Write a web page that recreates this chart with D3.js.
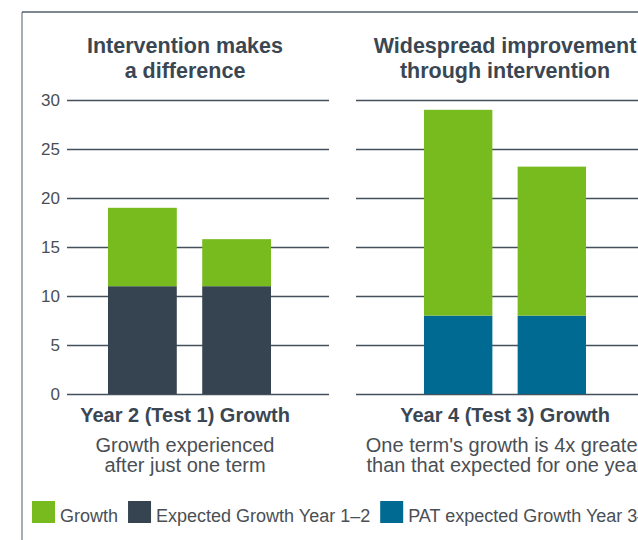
<!DOCTYPE html>
<html>
<head>
<meta charset="utf-8">
<script src="https://cdn.jsdelivr.net/npm/d3@7/dist/d3.min.js"></script>
<style>
  html, body { margin: 0; padding: 0; background: #fff; overflow: hidden; }
  svg { display: block; font-family: "Liberation Sans", Arial, Helvetica, sans-serif; }
</style>
</head>
<body>
<script>
// ---- data ----
const bars = ["Group A", "Group B"];
const yTicks = [0, 5, 10, 15, 20, 25, 30];

const leftTitle = ["Intervention makes", "a difference"];
const leftLabel = "Year 2 (Test 1) Growth";
const leftNote = ["Growth experienced", "after just one term"];
const leftExpected = [11, 11];
const leftGrowth = [8, 4.8];

const rightTitle = ["Widespread improvement", "through intervention"];
const rightLabel = "Year 4 (Test 3) Growth";
const rightNote = ["One term's growth is 4x greater", "than that expected for one year"];
const rightExpected = [8, 8];
const rightGrowth = [21, 15.2];

const legendNames = ["Growth", "Expected Growth Year 1–2", "PAT expected Growth Year 3–4"];
const legendColors = ["#77bb1f", "#364451", "#006a92"];

// ---- drawing ----
const width = 638, height = 540;
const svg = d3.select("body").append("svg")
  .attr("width", width)
  .attr("height", height);

// frame
svg.append("line")
  .attr("x1", 22).attr("x2", 22).attr("y1", 12).attr("y2", height)
  .attr("stroke", "#8a949e").attr("stroke-width", 1.5);
svg.append("line")
  .attr("x1", 22).attr("x2", width).attr("y1", 12).attr("y2", 12)
  .attr("stroke", "#55616d").attr("stroke-width", 1.5);

const y = d3.scaleLinear().domain([0, 30]).range([394, 100]);

function panel(opts) {
  const g = svg.append("g");

  // gridlines + tick labels
  const axis = d3.axisLeft(y)
    .tickValues(yTicks)
    .tickSize(-(opts.gridEnd - opts.gridStart))
    .tickPadding(7)
    .tickFormat(opts.labels ? d3.format("d") : "");
  const ax = g.append("g")
    .attr("transform", `translate(${opts.gridStart},0)`)
    .call(axis);
  ax.select(".domain").remove();
  ax.selectAll(".tick line").attr("stroke", "#44505c").attr("stroke-width", 1.5);
  ax.selectAll(".tick text")
    .attr("fill", "#4a4f55")
    .style("font-size", "17px")
    .attr("font-family", null);

  const x = d3.scaleBand()
    .domain(bars)
    .range(opts.barRange)
    .paddingInner(0.27)
    .paddingOuter(0);

  const stack = bars.map((b, i) => ({
    key: b, base: opts.expected[i], top: opts.expected[i] + opts.growth[i]
  }));

  g.selectAll(".base").data(stack).join("rect")
    .attr("class", "base")
    .attr("x", d => x(d.key))
    .attr("width", x.bandwidth())
    .attr("y", d => y(d.base))
    .attr("height", d => y(0) - y(d.base))
    .attr("fill", opts.baseColor);

  g.selectAll(".growth").data(stack).join("rect")
    .attr("class", "growth")
    .attr("x", d => x(d.key))
    .attr("width", x.bandwidth())
    .attr("y", d => y(d.top))
    .attr("height", d => y(d.base) - y(d.top))
    .attr("fill", legendColors[0]);

  // title
  g.selectAll(".title").data(opts.title).join("text")
    .attr("class", "title")
    .attr("x", opts.cx)
    .attr("y", (d, i) => 53 + i * 25)
    .attr("text-anchor", "middle")
    .attr("fill", "#3a4753")
    .style("font-size", "21.5px")
    .style("font-weight", "bold")
    .text(d => d);

  g.append("text")
    .attr("x", opts.cx)
    .attr("y", 422)
    .attr("text-anchor", "middle")
    .attr("fill", "#3a4753")
    .style("font-size", "20px")
    .style("font-weight", "bold")
    .text(opts.label);

  g.selectAll(".note").data(opts.note).join("text")
    .attr("class", "note")
    .attr("x", opts.cx)
    .attr("y", (d, i) => 452 + i * 20)
    .attr("text-anchor", "middle")
    .attr("fill", "#4a4f55")
    .style("font-size", "20px")
    .text(d => d);
}

panel({
  gridStart: 67, gridEnd: 329, labels: true,
  barRange: [108, 271], cx: 185,
  expected: leftExpected, growth: leftGrowth, baseColor: legendColors[1],
  title: leftTitle, label: leftLabel, note: leftNote
});

panel({
  gridStart: 356, gridEnd: 654, labels: false,
  barRange: [424, 586], cx: 505,
  expected: rightExpected, growth: rightGrowth, baseColor: legendColors[2],
  title: rightTitle, label: rightLabel, note: rightNote
});

// legend
const legend = svg.append("g");
let lx = 32;
legendNames.forEach((name, i) => {
  legend.append("rect")
    .attr("x", lx).attr("y", 501)
    .attr("width", 23).attr("height", 22)
    .attr("fill", legendColors[i]);
  const t = legend.append("text")
    .attr("x", lx + 28).attr("y", 522)
    .attr("fill", "#4a4f55")
    .style("font-size", "18px")
    .text(name);
  lx += 28 + t.node().getComputedTextLength() + 10;
});
</script>
</body>
</html>
